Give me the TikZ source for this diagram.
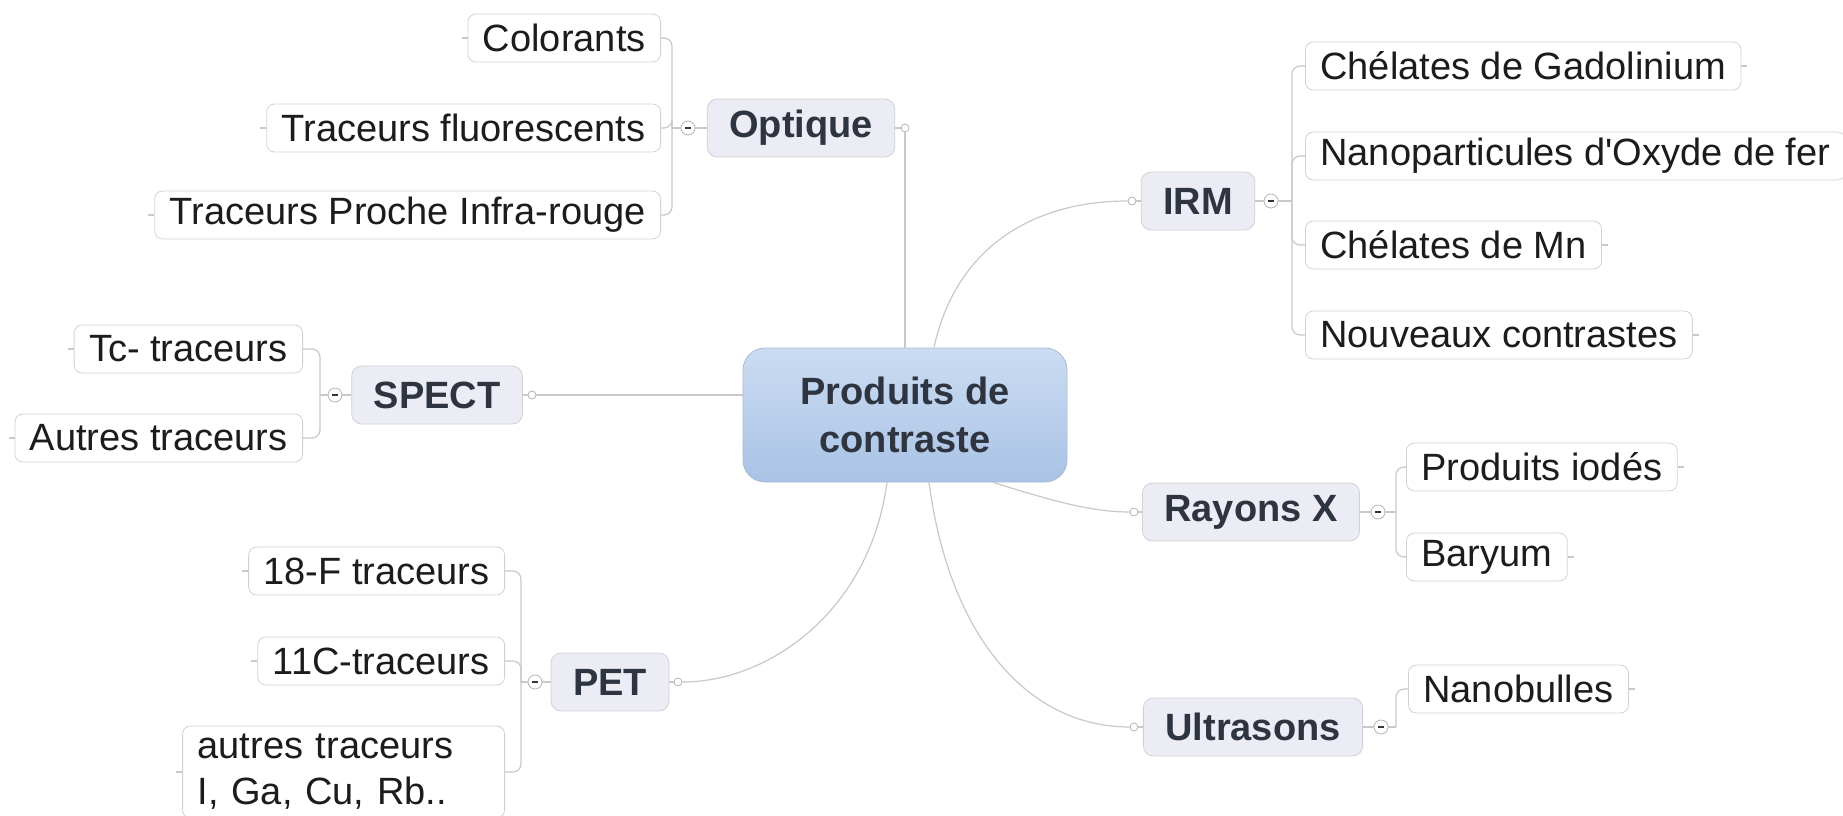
\documentclass[tikz,border=0pt]{standalone}
\usepackage{fontspec}
\setmainfont{Liberation Sans}
\usepackage{tikz}
\usetikzlibrary{calc, positioning}

\definecolor{linkgray}{HTML}{C8C8C8}
\definecolor{leafline}{HTML}{D2D2D2}
\definecolor{topicfill}{HTML}{ECECF4}
\definecolor{topicline}{HTML}{D0D0DA}
\definecolor{textslate}{HTML}{2F3540}
\definecolor{textdark}{HTML}{1C1C1C}
\definecolor{prodtop}{HTML}{CBDCF2}
\definecolor{prodbottom}{HTML}{A9C3E5}
\definecolor{prodline}{HTML}{A7BAD4}

\begin{document}
\begin{tikzpicture}[x=0.5pt, y=-0.5pt, font=\fontsize{19}{23}\selectfont,
    leaf/.style={draw=leafline, fill=white, rounded corners=4pt, minimum height=24pt, inner xsep=7.5pt, inner ysep=2pt, text=textdark},
    topic/.style={draw=topicline, fill=topicfill, rounded corners=5pt, minimum height=29pt, inner xsep=11pt, font=\fontsize{19}{23}\selectfont\bfseries, text=textslate},
    central/.style={draw=prodline, top color=prodtop, bottom color=prodbottom, rounded corners=11pt, minimum width=162pt, minimum height=67pt, align=center, font=\fontsize{19}{24}\selectfont\bfseries, text=textslate},
    knob/.style={circle, draw=linkgray!90!black, fill=white, inner sep=0pt, minimum size=4pt},
    fold/.style={circle, draw=linkgray!90!black, fill=white, inner sep=0pt, minimum size=7pt},
    link/.style={draw=linkgray, line width=0.6pt},
    branch/.style={link, rounded corners=4pt},
  ]
    \useasboundingbox (0,0) rectangle (1843,815);
    \def\minus{\textcolor{textslate}{\rule[-0.3pt]{2.6pt}{0.7pt}}}

    % centre
    \node[central] (prod) at (905,415) {Produits de\\contraste};

    % Optique
    \node[topic] (optique) at (801,128) {Optique};
    \node[knob] (optique-k) at (905,128) {};
    \node[fold] (optique-f) at (688,128) {\minus};
    \coordinate (optique-b) at (672,128);
    \node[leaf, anchor=east] (colorants) at (661,38) {Colorants};
    \node[leaf, anchor=east] (fluo) at (661,128) {Traceurs fluorescents};
    \node[leaf, anchor=east] (nir) at (661,215) {Traceurs Proche Infra-rouge};

    % SPECT
    \node[topic] (spect) at (437,395) {SPECT};
    \node[knob] (spect-k) at (532,395) {};
    \node[fold] (spect-f) at (335,395) {\minus};
    \coordinate (spect-b) at (320,395);
    \node[leaf, anchor=east] (tc) at (303,349) {Tc- traceurs};
    \node[leaf, anchor=east] (autres) at (303,438) {Autres traceurs};

    % PET
    \node[topic] (pet) at (610,682) {PET};
    \node[knob] (pet-k) at (678,682) {};
    \node[fold] (pet-f) at (535,682) {\minus};
    \coordinate (pet-b) at (521,682);
    \node[leaf, anchor=east] (f18) at (505,571) {18-F traceurs};
    \node[leaf, anchor=east] (c11) at (505,661) {11C-traceurs};
    \node[leaf, anchor=east, text width=146pt, align=left, minimum height=46pt] (autrespet) at (505,772) {autres traceurs\\I, Ga, Cu, Rb..};

    % IRM
    \node[topic] (irm) at (1198,201) {IRM};
    \node[knob] (irm-k) at (1132,201) {};
    \node[fold] (irm-f) at (1271,201) {\minus};
    \coordinate (irm-b) at (1292,201);
    \node[leaf, anchor=west] (gd) at (1305,66) {Chélates de Gadolinium};
    \node[leaf, anchor=west] (nano) at (1305,156) {Nanoparticules d\textquotesingle Oxyde de fer};
    \node[leaf, anchor=west] (mn) at (1305,245) {Chélates de Mn};
    \node[leaf, anchor=west] (nouv) at (1305,335) {Nouveaux contrastes};

    % Rayons X
    \node[topic] (rx) at (1251,512) {Rayons X};
    \node[knob] (rx-k) at (1134,512) {};
    \node[fold] (rx-f) at (1378,512) {\minus};
    \coordinate (rx-b) at (1396,512);
    \node[leaf, anchor=west] (iodes) at (1406,467) {Produits iodés};
    \node[leaf, anchor=west] (baryum) at (1406,557) {Baryum};

    % Ultrasons
    \node[topic] (us) at (1253,727) {Ultrasons};
    \node[knob] (us-k) at (1134,727) {};
    \node[fold] (us-f) at (1381,727) {\minus};
    \coordinate (us-b) at (1396,727);
    \node[leaf, anchor=west] (nanob) at (1408,689) {Nanobulles};

    % centre to topics
    \draw[link] (prod.north) -- (optique-k);
    \draw[link] (spect-k) -- (prod.west |- spect-k);
    \draw[link] ($(prod.north)+(29,0)$) .. controls (955,250) and (1030,201) .. (irm-k);
    \draw[link] ($(prod.south)+(88,0)$) .. controls (1050,500) and (1090,512) .. (rx-k);
    \draw[link] ($(prod.south)+(24,0)$) .. controls (950,640) and (1030,727) .. (us-k);
    \draw[link] ($(prod.south)+(-18,0)$) .. controls (870,610) and (770,682) .. (pet-k);

    % topics to knobs and folds
    \foreach \t in {optique,spect,pet} {
      \draw[link] (\t.east) -- (\t-k);
      \draw[link] (\t.west) -- (\t-f);
      \draw[link] (\t-f) -- (\t-b);
    }
    \foreach \t in {irm,rx,us} {
      \draw[link] (\t.west) -- (\t-k);
      \draw[link] (\t.east) -- (\t-f);
      \draw[link] (\t-f) -- (\t-b);
    }

    % brackets
    \foreach \c in {colorants,fluo,nir} \draw[branch] (\c.east) -| (optique-b);
    \foreach \c in {tc,autres} \draw[branch] (\c.east) -| (spect-b);
    \foreach \c in {f18,c11,autrespet} \draw[branch] (\c.east) -| (pet-b);
    \foreach \c in {gd,nano,mn,nouv} \draw[branch] (\c.west) -| (irm-b);
    \foreach \c in {iodes,baryum} \draw[branch] (\c.west) -| (rx-b);
    \draw[branch] (nanob.west) -| (us-b);

    % loose ends
    \foreach \c in {colorants,fluo,nir,tc,autres,f18,c11,autrespet} \draw[link] (\c.west) -- ++(-6,0);
    \foreach \c in {gd,mn,nouv,iodes,baryum,nanob} \draw[link] (\c.east) -- ++(6,0);
\end{tikzpicture}
\end{document}
